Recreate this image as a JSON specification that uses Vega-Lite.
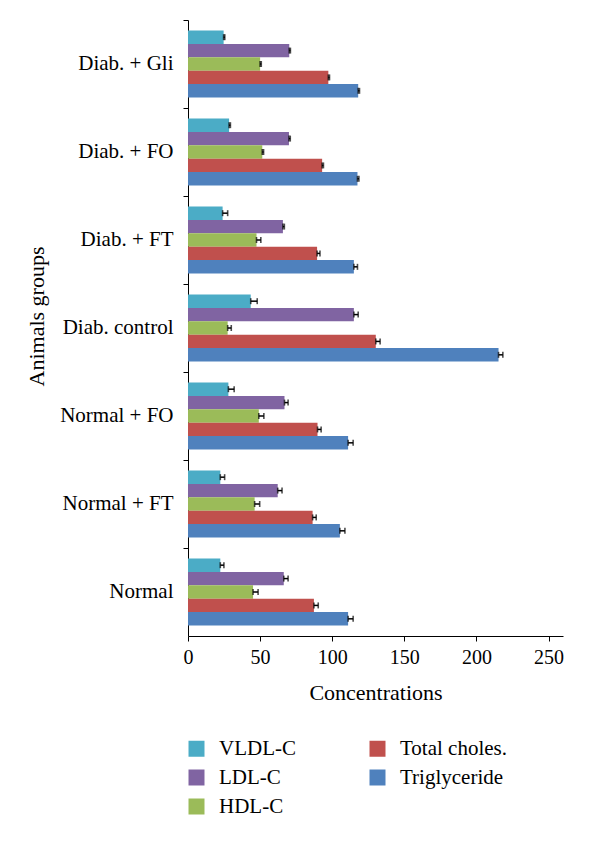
{
  "$schema": "https://vega.github.io/schema/vega-lite/v6.json",
  "width": 375,
  "height": 616,
  "autosize": {"type": "none"},
  "padding": {"left": 188, "top": 20, "right": 37, "bottom": 208},
  "background": "white",
  "config": {
    "view": {"stroke": null},
    "font": "Liberation Serif",
    "axis": {
      "domainColor": "black",
      "tickColor": "black",
      "labelColor": "black",
      "titleColor": "black",
      "labelFont": "Liberation Serif",
      "titleFont": "Liberation Serif",
      "labelFontSize": 20,
      "titleFontSize": 22,
      "titleFontWeight": "normal",
      "grid": false,
      "tickSize": 5
    },
    "legend": {
      "labelFont": "Liberation Serif",
      "labelFontSize": 21,
      "labelColor": "black"
    }
  },
  "data": {
    "values": [
      {"group": "Diab. + Gli", "lipid": "VLDL-C", "value": 24.7, "hi": 25.5},
      {"group": "Diab. + Gli", "lipid": "LDL-C", "value": 70.2, "hi": 71.0},
      {"group": "Diab. + Gli", "lipid": "HDL-C", "value": 50.0, "hi": 50.8},
      {"group": "Diab. + Gli", "lipid": "Total choles.", "value": 97.3, "hi": 98.1},
      {"group": "Diab. + Gli", "lipid": "Triglyceride", "value": 118.0, "hi": 118.9},
      {"group": "Diab. + FO", "lipid": "VLDL-C", "value": 28.5, "hi": 29.4},
      {"group": "Diab. + FO", "lipid": "LDL-C", "value": 70.0, "hi": 70.9},
      {"group": "Diab. + FO", "lipid": "HDL-C", "value": 51.5, "hi": 52.4},
      {"group": "Diab. + FO", "lipid": "Total choles.", "value": 93.0, "hi": 93.9},
      {"group": "Diab. + FO", "lipid": "Triglyceride", "value": 117.5, "hi": 118.5},
      {"group": "Diab. + FT", "lipid": "VLDL-C", "value": 24.0, "hi": 27.5},
      {"group": "Diab. + FT", "lipid": "LDL-C", "value": 65.8, "hi": 66.8},
      {"group": "Diab. + FT", "lipid": "HDL-C", "value": 47.5, "hi": 50.5},
      {"group": "Diab. + FT", "lipid": "Total choles.", "value": 89.5, "hi": 91.5},
      {"group": "Diab. + FT", "lipid": "Triglyceride", "value": 115.0, "hi": 117.5},
      {"group": "Diab. control", "lipid": "VLDL-C", "value": 43.5, "hi": 48.0},
      {"group": "Diab. control", "lipid": "LDL-C", "value": 115.0, "hi": 118.0},
      {"group": "Diab. control", "lipid": "HDL-C", "value": 27.5, "hi": 30.0},
      {"group": "Diab. control", "lipid": "Total choles.", "value": 130.2, "hi": 133.2},
      {"group": "Diab. control", "lipid": "Triglyceride", "value": 215.3, "hi": 218.3},
      {"group": "Normal + FO", "lipid": "VLDL-C", "value": 28.0, "hi": 32.0},
      {"group": "Normal + FO", "lipid": "LDL-C", "value": 66.9, "hi": 69.4},
      {"group": "Normal + FO", "lipid": "HDL-C", "value": 49.1, "hi": 52.6},
      {"group": "Normal + FO", "lipid": "Total choles.", "value": 89.8, "hi": 92.3},
      {"group": "Normal + FO", "lipid": "Triglyceride", "value": 111.0, "hi": 114.5},
      {"group": "Normal + FT", "lipid": "VLDL-C", "value": 22.4, "hi": 25.4},
      {"group": "Normal + FT", "lipid": "LDL-C", "value": 62.2, "hi": 65.2},
      {"group": "Normal + FT", "lipid": "HDL-C", "value": 46.2, "hi": 49.7},
      {"group": "Normal + FT", "lipid": "Total choles.", "value": 86.4, "hi": 88.9},
      {"group": "Normal + FT", "lipid": "Triglyceride", "value": 105.3, "hi": 108.8},
      {"group": "Normal", "lipid": "VLDL-C", "value": 22.4, "hi": 24.9},
      {"group": "Normal", "lipid": "LDL-C", "value": 66.4, "hi": 69.4},
      {"group": "Normal", "lipid": "HDL-C", "value": 45.1, "hi": 48.6},
      {"group": "Normal", "lipid": "Total choles.", "value": 87.3, "hi": 90.3},
      {"group": "Normal", "lipid": "Triglyceride", "value": 111.0, "hi": 114.5}
    ]
  },
  "encoding": {
    "y": {
      "field": "group",
      "type": "nominal",
      "scale": {
        "domain": ["Diab. + Gli", "Diab. + FO", "Diab. + FT", "Diab. control", "Normal + FO", "Normal + FT", "Normal"],
        "paddingInner": 0,
        "paddingOuter": 0
      },
      "axis": {
        "title": "Animals groups",
        "bandPosition": 0,
        "labelFontSize": 21,
        "labelPadding": 10,
        "titleAngle": -90,
        "titleBaseline": "bottom",
        "titleX": -140,
        "titleY": 296
      }
    },
    "yOffset": {
      "field": "lipid",
      "type": "nominal",
      "scale": {
        "domain": ["VLDL-C", "LDL-C", "HDL-C", "Total choles.", "Triglyceride"],
        "paddingInner": 0,
        "paddingOuter": 0.78
      }
    }
  },
  "layer": [
    {
      "mark": {"type": "bar"},
      "encoding": {
        "x": {
          "field": "value",
          "type": "quantitative",
          "scale": {"domain": [0, 250]},
          "axis": {
            "title": "Concentrations",
            "values": [0, 50, 100, 150, 200, 250],
            "labelPadding": 6,
            "titlePadding": 15,
            "labelFlush": false
          }
        },
        "color": {
          "field": "lipid",
          "type": "nominal",
          "scale": {
            "domain": ["VLDL-C", "LDL-C", "HDL-C", "Total choles.", "Triglyceride"],
            "range": ["#4BACC6", "#8064A2", "#9BBB59", "#C0504D", "#4F81BD"]
          },
          "legend": {
            "title": null,
            "orient": "none",
            "legendX": -2,
            "legendY": 718,
            "columns": 2,
            "symbolType": "square",
            "symbolSize": 256,
            "symbolStrokeWidth": 0,
            "labelOffset": 12,
            "columnPadding": 71,
            "rowPadding": 7,
            "padding": 0
          }
        }
      }
    },
    {
      "mark": {"type": "rule", "color": "black", "strokeWidth": 1.5},
      "encoding": {
        "x": {"field": "value", "type": "quantitative"},
        "x2": {"field": "hi"}
      }
    },
    {
      "mark": {"type": "tick", "color": "black", "size": 6, "thickness": 1.6},
      "encoding": {
        "x": {"field": "hi", "type": "quantitative"}
      }
    },
    {
      "mark": {"type": "tick", "color": "black", "size": 6, "thickness": 1.6},
      "encoding": {
        "x": {"field": "value", "type": "quantitative"}
      }
    }
  ]
}
